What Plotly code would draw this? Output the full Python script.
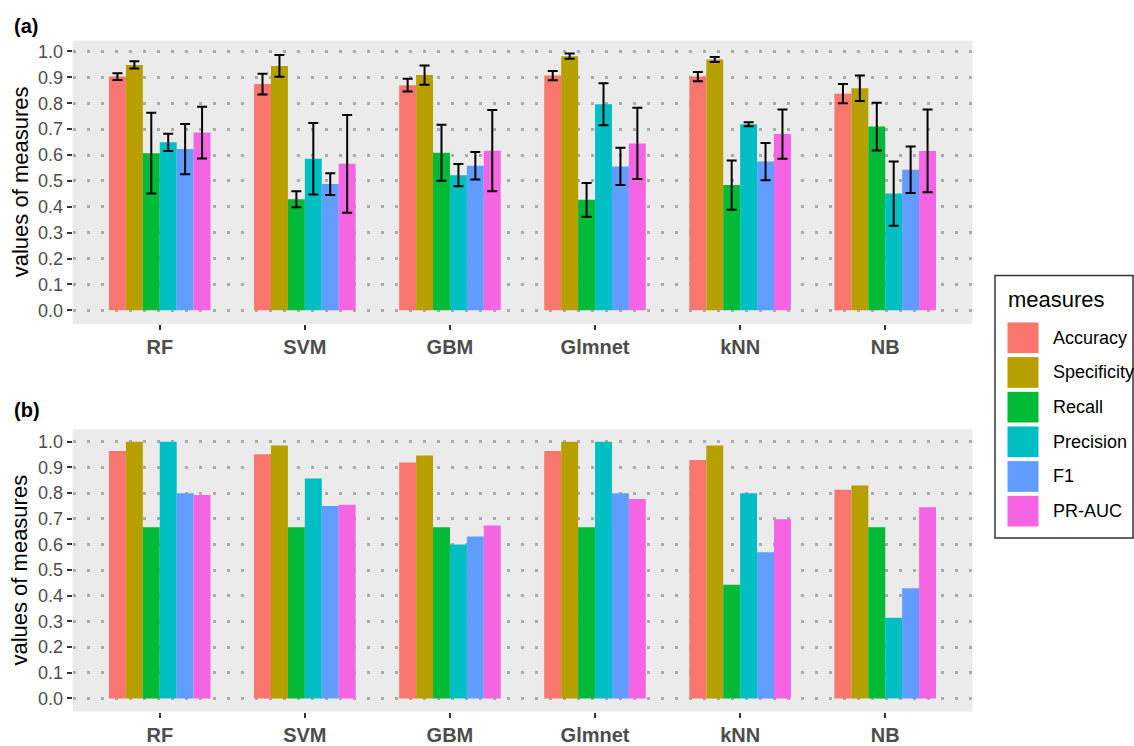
import plotly.graph_objects as go

W, H = 1134, 746

models = ["RF", "SVM", "GBM", "Glmnet", "kNN", "NB"]
measures = ["Accuracy", "Specificity", "Recall", "Precision", "F1", "PR-AUC"]
colors = ["#F8766D", "#B79F00", "#00BA38", "#00BFC4", "#619CFF", "#F564E3"]

# Panel (a): mean values per measure across models (RF, SVM, GBM, Glmnet, kNN, NB)
a_accuracy = [0.903, 0.874, 0.870, 0.907, 0.903, 0.837]
a_specificity = [0.948, 0.944, 0.909, 0.982, 0.969, 0.858]
a_recall = [0.607, 0.429, 0.609, 0.427, 0.484, 0.710]
a_precision = [0.649, 0.586, 0.522, 0.796, 0.719, 0.451]
a_f1 = [0.623, 0.488, 0.559, 0.556, 0.575, 0.543]
a_prauc = [0.687, 0.566, 0.617, 0.645, 0.681, 0.616]

# Panel (a): error bar half-widths
e_accuracy = [0.013, 0.040, 0.025, 0.018, 0.018, 0.037]
e_specificity = [0.014, 0.042, 0.037, 0.010, 0.010, 0.049]
e_recall = [0.156, 0.031, 0.108, 0.065, 0.095, 0.092]
e_precision = [0.033, 0.138, 0.043, 0.081, 0.008, 0.124]
e_f1 = [0.097, 0.042, 0.053, 0.072, 0.072, 0.090]
e_prauc = [0.100, 0.189, 0.157, 0.138, 0.095, 0.160]

# Panel (b): values
b_accuracy = [0.964, 0.952, 0.919, 0.964, 0.929, 0.813]
b_specificity = [1.000, 0.986, 0.947, 1.000, 0.986, 0.830]
b_recall = [0.667, 0.667, 0.667, 0.667, 0.443, 0.667]
b_precision = [1.000, 0.857, 0.600, 1.000, 0.800, 0.314]
b_f1 = [0.800, 0.750, 0.631, 0.800, 0.570, 0.429]
b_prauc = [0.793, 0.755, 0.674, 0.777, 0.698, 0.745]

y_ticks = [0.0, 0.1, 0.2, 0.3, 0.4, 0.5, 0.6, 0.7, 0.8, 0.9, 1.0]
y_ticktext = ["0.0", "0.1", "0.2", "0.3", "0.4", "0.5", "0.6", "0.7", "0.8", "0.9", "1.0"]

a_vals = [a_accuracy, a_specificity, a_recall, a_precision, a_f1, a_prauc]
a_errs = [e_accuracy, e_specificity, e_recall, e_precision, e_f1, e_prauc]
b_vals = [b_accuracy, b_specificity, b_recall, b_precision, b_f1, b_prauc]


def px_x(x):
    return x / W


def px_y(y):
    return 1 - y / H


FONT = "Liberation Sans, Arial, sans-serif"

fig = go.Figure()
for i, m in enumerate(measures):
    fig.add_trace(go.Bar(
        x=models, y=a_vals[i], name=m, marker=dict(color=colors[i], line=dict(width=0)),
        error_y=dict(type="data", array=a_errs[i], color="black", thickness=2, width=5),
        xaxis="x", yaxis="y", showlegend=False, offsetgroup=m,
    ))
for i, m in enumerate(measures):
    fig.add_trace(go.Bar(
        x=models, y=b_vals[i], name=m, marker=dict(color=colors[i], line=dict(width=0)),
        xaxis="x2", yaxis="y2", showlegend=False, offsetgroup=m,
    ))

xdom = [px_x(72.7), px_x(972.3)]
common_x = dict(
    type="category", range=[-0.6, 5.6], showgrid=False, zeroline=False,
    ticks="outside", ticklen=5, tickwidth=2, tickcolor="#333333",
    tickfont=dict(family=FONT, size=20, color="#4D4D4D", weight="bold"),
    showline=False, fixedrange=True,
)
common_y = dict(
    tickvals=y_ticks, ticktext=y_ticktext, showgrid=True, gridcolor="#ABABAB",
    gridwidth=3, griddash="3px,11px", zeroline=False,
    ticks="outside", ticklen=5, tickwidth=2, tickcolor="#333333",
    tickfont=dict(family=FONT, size=18, color="#4D4D4D"), showline=False,
)

fig.update_layout(
    width=W, height=H, margin=dict(l=0, r=0, t=0, b=0, pad=0),
    paper_bgcolor="white", plot_bgcolor="#EBEBEB",
    barmode="group", bargap=0.3, bargroupgap=0,
    font=dict(family=FONT),
    xaxis=dict(domain=xdom, anchor="y", **common_x),
    yaxis=dict(domain=[px_y(327), px_y(41)], anchor="x", range=[-0.0524, 1.042], **common_y),
    xaxis2=dict(domain=xdom, anchor="y2", **common_x),
    yaxis2=dict(domain=[px_y(718.3), px_y(433.3)], anchor="x2", range=[-0.051, 1.049], **common_y),
)

annotations = []
# panel labels
annotations.append(dict(x=px_x(12), y=px_y(26), xref="paper", yref="paper", text="<b>(a)</b>",
                        showarrow=False, xanchor="left", yanchor="middle",
                        font=dict(family=FONT, size=20, color="black")))
annotations.append(dict(x=px_x(12), y=px_y(414), xref="paper", yref="paper", text="<b>(b)</b>",
                        showarrow=False, xanchor="left", yanchor="middle",
                        font=dict(family=FONT, size=20, color="black")))
# y axis titles
for yc in (184, 576):
    annotations.append(dict(x=px_x(20), y=px_y(yc), xref="paper", yref="paper",
                            text="values of measures", textangle=-90, showarrow=False,
                            xanchor="center", yanchor="middle",
                            font=dict(family=FONT, size=22, color="black")))

shapes = []
# legend box
shapes.append(dict(type="rect", xref="paper", yref="paper",
                   x0=px_x(995), x1=px_x(1133), y0=px_y(543), y1=px_y(278),
                   line=dict(color="#333333", width=1.5), fillcolor="white", layer="below"))
annotations.append(dict(x=px_x(1006), y=px_y(302), xref="paper", yref="paper", text="measures",
                        showarrow=False, xanchor="left", yanchor="middle",
                        font=dict(family=FONT, size=22, color="black")))
for i, m in enumerate(measures):
    top = 325 + 35 * i
    shapes.append(dict(type="rect", xref="paper", yref="paper",
                       x0=px_x(1007), x1=px_x(1039), y0=px_y(top + 32), y1=px_y(top),
                       line=dict(color="white", width=1), fillcolor=colors[i]))
    annotations.append(dict(x=px_x(1051), y=px_y(top + 16), xref="paper", yref="paper", text=m,
                            showarrow=False, xanchor="left", yanchor="middle",
                            font=dict(family=FONT, size=18, color="black")))

fig.update_layout(annotations=annotations, shapes=shapes)

post = ("document.documentElement.style.margin='0';document.body.style.margin='0';"
        "document.documentElement.style.overflow='hidden';document.body.style.overflow='hidden';")
fig.write_html("out.html", post_script=post, config={"displayModeBar": False})
